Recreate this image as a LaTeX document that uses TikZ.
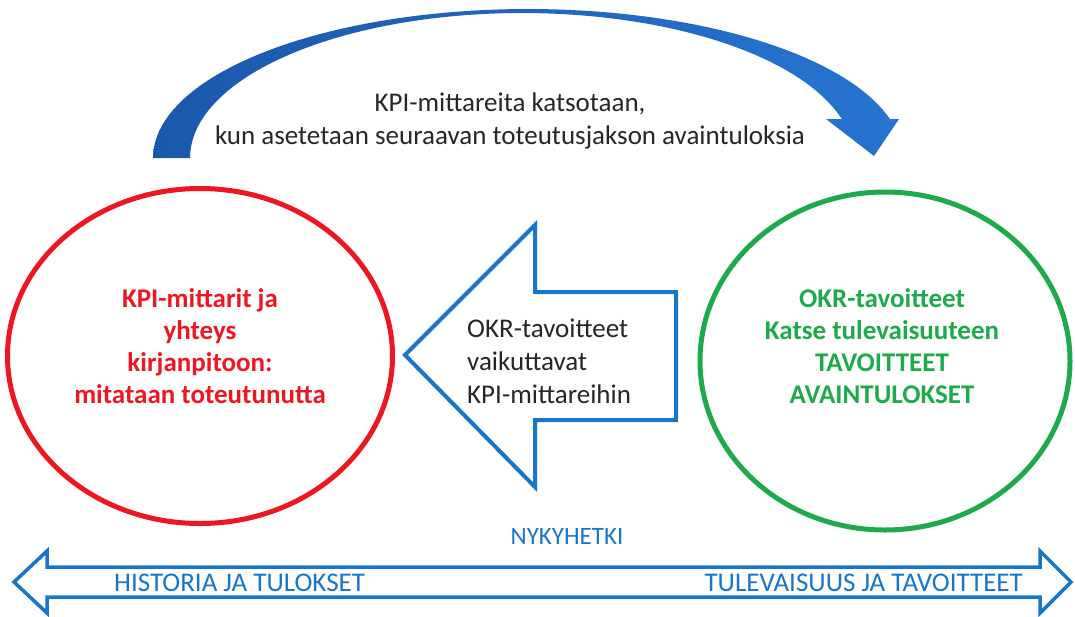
\documentclass[tikz,border=0pt]{standalone}
\usepackage{fontspec}
\setmainfont{Carlito}
\usetikzlibrary{shapes.geometric}
\definecolor{arcdark}{RGB}{27,88,172}
\definecolor{arclight}{RGB}{38,116,208}
\definecolor{okblue}{RGB}{24,118,202}
\definecolor{kpired}{RGB}{238,22,32}
\definecolor{okrgreen}{RGB}{28,170,74}
\definecolor{textgray}{RGB}{38,38,38}
\begin{document}
\begin{tikzpicture}[x=1pt,y=-1pt,
  txt/.style={font=\fontsize{27}{33}\selectfont, text=textgray, inner sep=0pt},
  boldtxt/.style={font=\fontsize{27}{32}\selectfont\bfseries, inner sep=0pt, align=center},
  circ/.style={ellipse, line width=5pt, inner sep=0pt},
  outlinearrow/.style={draw=okblue, line join=miter, fill=white}]
\useasboundingbox (0,0) rectangle (1075,616);

% curved arrow on top
\shade[left color=arcdark, right color=arclight]
  plot[domain=180:15.07, samples=80, variable=\t] ({528+375*cos(\t)},{158-149*sin(\t)})
  -- (899,119) -- (874,156) -- (826,119) -- (842,119)
  -- plot[domain=16.7:180, samples=80, variable=\t] ({522+332*cos(\t)},{158-145*sin(\t)})
  -- cycle;
\node[txt, align=center] (toptext) at (510,121)
  {KPI-mittareita katsotaan,\\kun asetetaan seuraavan toteutusjakson avaintuloksia};

% ellipses
\node[circ, draw=kpired, minimum width=385pt, minimum height=335pt] (kpi) at (200,356) {};
\node[circ, draw=okrgreen, minimum width=370pt, minimum height=338pt] (okr) at (885,361) {};
\node[boldtxt, text=kpired] (kpitext) at (200,346)
  {KPI-mittarit ja\\yhteys\\kirjanpitoon:\\mitataan toteutunutta};
\node[boldtxt, text=okrgreen] (okrtext) at (882,346)
  {OKR-tavoitteet\\Katse tulevaisuuteen\\TAVOITTEET\\AVAINTULOKSET};

% middle arrow pointing left
\draw[outlinearrow, line width=4pt] (405,355) -- (535,225) -- (535,292) -- (676,292)
  -- (676,420) -- (535,420) -- (535,487) -- cycle;
\node[txt, align=left, anchor=west] (midtext) at (467,361)
  {OKR-tavoitteet\\vaikuttavat\\KPI-mittareihin};

% time line
\node[txt, text=okblue, font=\fontsize{25}{30}\selectfont] (now) at (567,536) {NYKYHETKI};
\draw[outlinearrow, line width=3.5pt] (14,582) -- (47,551) -- (47,567) -- (1040,567)
  -- (1040,551) -- (1071,582) -- (1040,613) -- (1040,597) -- (47,597) -- (47,613) -- cycle;
\node[txt, text=okblue, anchor=west] (past) at (114,583) {HISTORIA JA TULOKSET};
\node[txt, text=okblue, anchor=east] (future) at (1023,583) {TULEVAISUUS JA TAVOITTEET};
\end{tikzpicture}
\end{document}
